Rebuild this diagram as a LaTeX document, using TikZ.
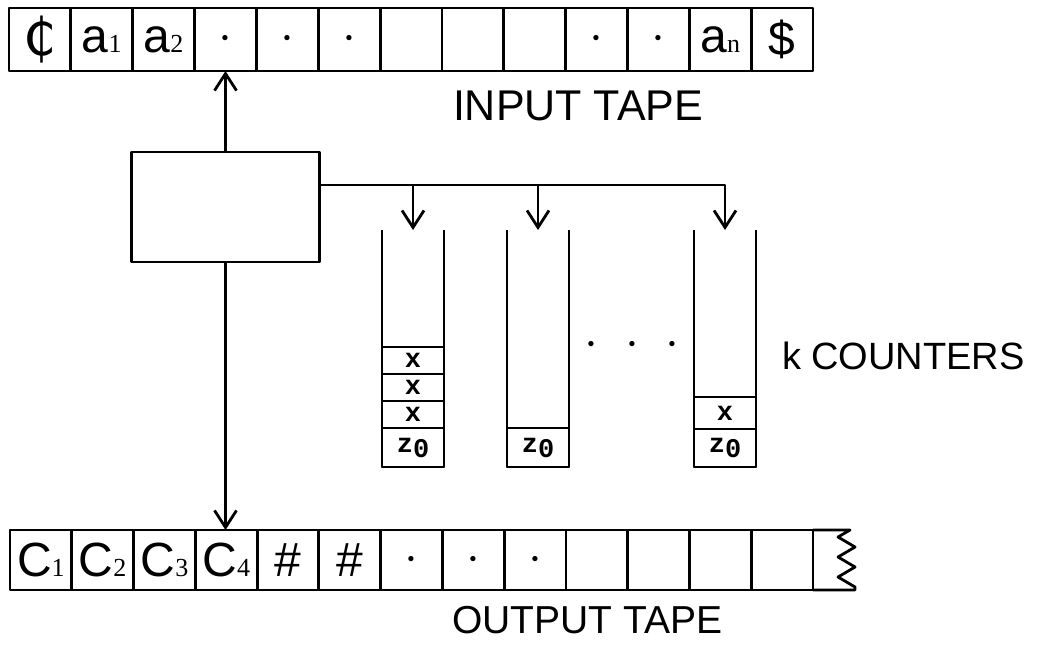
\documentclass[tikz,border=0pt]{standalone}
\usepackage{fontspec}
\setmainfont{Liberation Sans}
\newfontfamily\symfont{DejaVu Sans}
\newfontfamily\subfont{Liberation Serif}
\newfontfamily\countfont{Liberation Mono}
\usetikzlibrary{arrows.meta,calc}

% small serif index after a tape symbol
\newcommand\tsub[1]{{\subfont\fontsize{13}{13}\selectfont #1}}
\newcommand\dt{$\cdot$}
\newcommand\zn{z\raisebox{-2.5pt}{0}}

\begin{document}
\begin{tikzpicture}[x=0.5pt, y=-0.5pt,
  line width=1.4pt, line join=round,
  every node/.style={inner sep=0pt, outer sep=0pt},
  cell/.style={draw, minimum width=30.9pt, minimum height=31.5pt,
    font=\fontsize{24}{24}\selectfont},
  slot/.style={draw, minimum width=31pt,
    font=\countfont\bfseries\fontsize{13.5}{13.5}\selectfont},
  wall/.style={minimum width=31pt, minimum height=118.5pt},
  lbl/.style={anchor=west},
  >={Straight Barb[length=8.5pt,width=11pt]}
  ]
  \useasboundingbox (0,0) rectangle (1042,645);

  % input tape
  \foreach \s [count=\i] in {{\symfont\fontsize{26}{26}\selectfont ₵}, a\tsub{1}, a\tsub{2},
      \dt, \dt, \dt, {}, {}, {}, \dt, \dt, a\tsub{n}, \$}
    \node[cell] (in\i) at ({9+61.85*(\i-0.5)}, 39.5) {\s};
  \node[lbl, font=\fontsize{21.5}{21.5}\selectfont] (intape) at (453,106) {INPUT TAPE};

  % output tape, torn off on the right
  \foreach \s [count=\i] in {C\tsub{1}, C\tsub{2}, C\tsub{3}, C\tsub{4}, \#, \#,
      \dt, \dt, \dt, {}, {}, {}, {}}
    \node[cell, minimum height=30pt] (out\i) at ({10+61.77*(\i-0.5)}, 560) {\s};
  \draw (out13.north east) -- ++(37,0) -- ++(-12,7) -- ++(17,10) -- ++(-17,10)
    -- ++(17,10) -- ++(-17,10) -- ++(17,10) |- (out13.south east);
  \node[lbl, font=\fontsize{19.5}{19.5}\selectfont] (outtape) at (452,620) {OUTPUT TAPE};

  % finite control
  \node[draw, minimum width=94pt, minimum height=55pt] (ctrl) at (225.5,207) {};
  \draw[->] (ctrl.north) -- (ctrl.north |- in4.south);
  \draw[->] (ctrl.south) -- (ctrl.south |- out4.north);

  % counters
  \foreach \n/\x in {1/413, 2/538, 3/725}
    \node[wall] (k\n) at (\x,348.5) {};
  \node[slot, minimum height=19.5pt, anchor=south] (k1z) at (k1.south) {\zn};
  \node[slot, minimum height=13.5pt, anchor=south] (k1x1) at (k1z.north) {x};
  \node[slot, minimum height=13.5pt, anchor=south] (k1x2) at (k1x1.north) {x};
  \node[slot, minimum height=13.5pt, anchor=south] (k1x3) at (k1x2.north) {x};
  \node[slot, minimum height=19.5pt, anchor=south] (k2z) at (k2.south) {\zn};
  \node[slot, minimum height=19pt, anchor=south] (k3z) at (k3.south) {\zn};
  \node[slot, minimum height=16pt, anchor=south] (k3x1) at (k3z.north) {x};
  \foreach \n in {1,2,3}
    \draw (k\n.north west) |- (k\n.south east) -- (k\n.north east);
  \node (more) at (632,345) {\fontsize{24}{24}\selectfont$\cdot\hskip8pt\cdot\hskip8pt\cdot$};
  \node[lbl, font=\fontsize{19}{19}\selectfont] (klabel) at (782,356) {k COUNTERS};

  % control lines to the counters
  \coordinate (bus) at ($(ctrl.north east)!0.3!(ctrl.south east)$);
  \draw[->] (bus) -| (k3.north);
  \draw[->] (bus -| k1.north) -- (k1.north);
  \draw[->] (bus -| k2.north) -- (k2.north);
\end{tikzpicture}
\end{document}
